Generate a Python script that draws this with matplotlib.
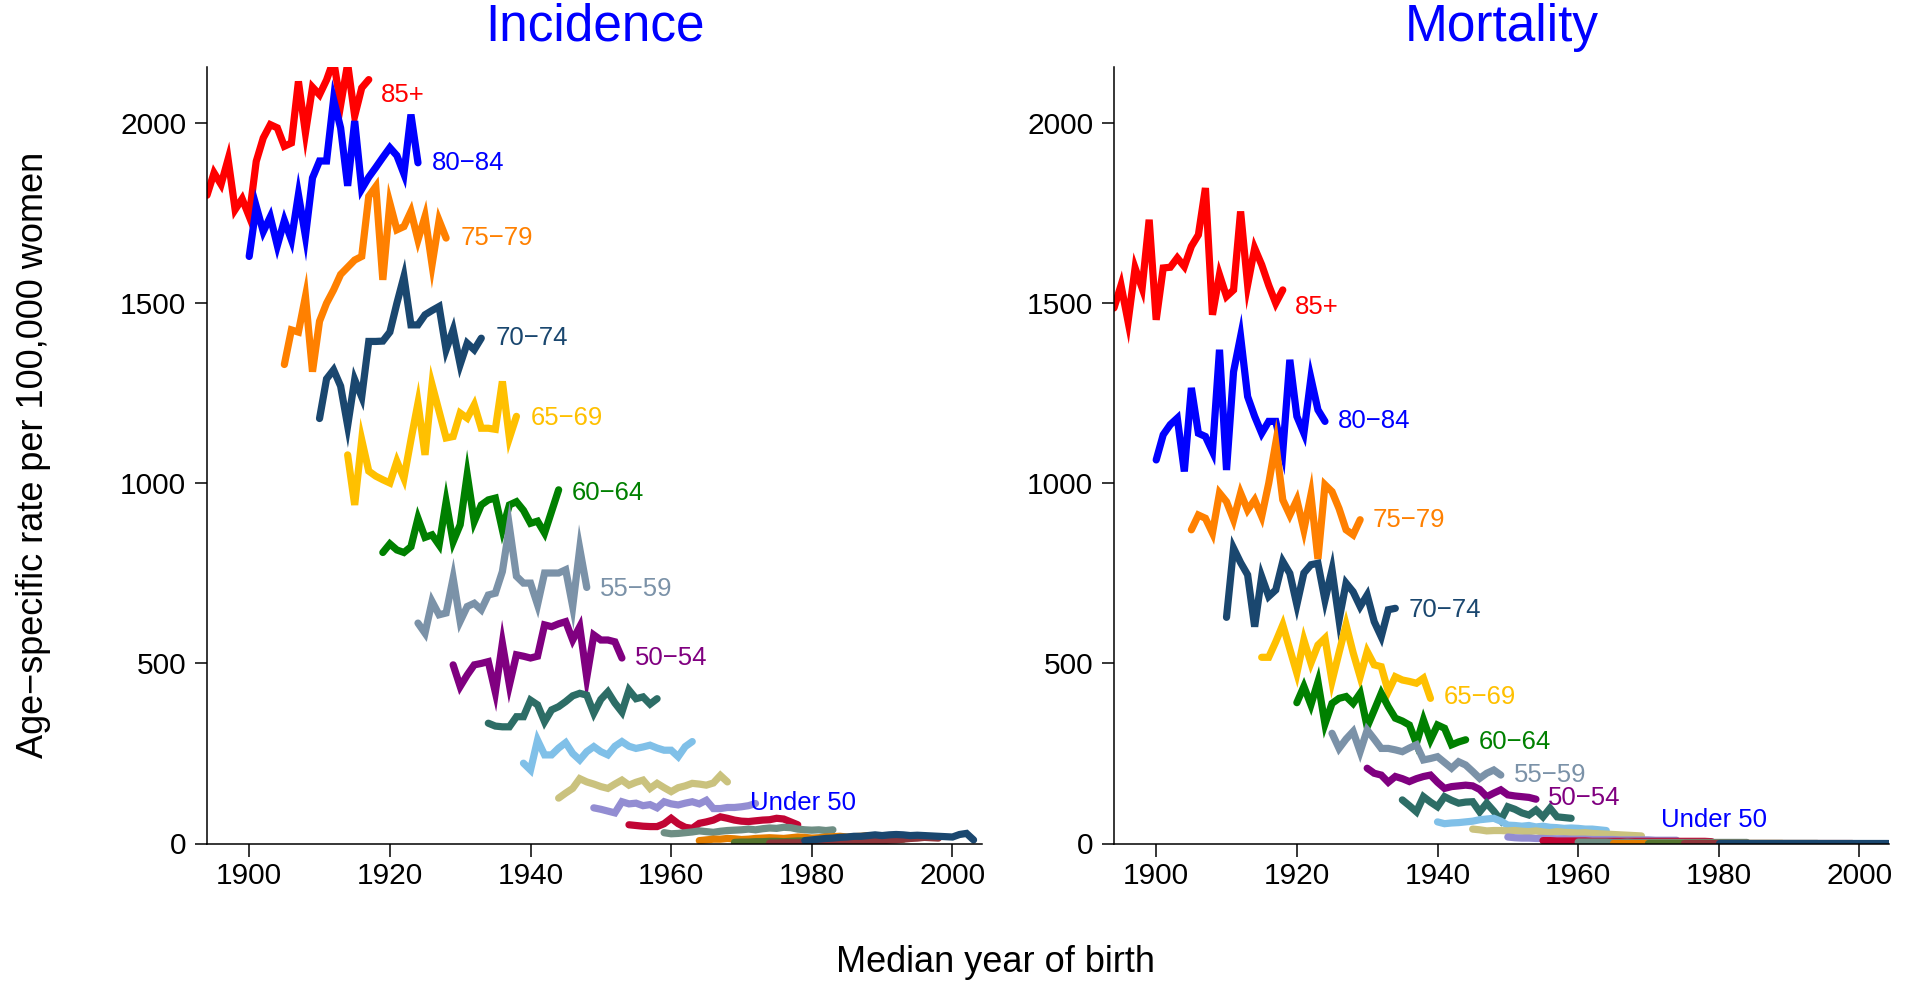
import matplotlib
matplotlib.use('Agg')
import matplotlib.pyplot as plt

plt.rcParams['font.family'] = ['Liberation Sans', 'DejaVu Sans']

# ---------------- data ----------------
age_groups = ['85+', '80−84', '75−79', '70−74', '65−69', '60−64', '55−59', '50−54',
              '45−49', '40−44', '35−39', '30−34', '25−29', '20−24', '15−19', '10−14', '5−9', '0−4']
colors = ['#ff0000', '#0000ff', '#ff8000', '#1a476f', '#ffc000', '#008000', '#7b92a8', '#800080',
          '#2d6d66', '#80c0e8', '#cac27e', '#938dd2', '#c10534', '#6e8e84', '#e37e00', '#55752f',
          '#90353b', '#1a476f']

# Incidence (first median year of birth of each series, then yearly values)
inc_start = [1894, 1900, 1905, 1910, 1914, 1919, 1924, 1929, 1934, 1939, 1944, 1949,
             1954, 1959, 1964, 1969, 1974, 1979]
inc_85 = [1800, 1862, 1830, 1900, 1760, 1790, 1741, 1894, 1959, 1996, 1987, 1936, 1945, 2116,
          1973, 2100, 2079, 2120, 2175, 2050, 2165, 2020, 2098, 2121]
inc_80 = [1630, 1769, 1699, 1740, 1660, 1730, 1676, 1802, 1686, 1848, 1895, 1895, 2066, 1987,
          1826, 2006, 1817, 1850, 1877, 1905, 1932, 1910, 1859, 2024, 1890]
inc_75 = [1330, 1426, 1420, 1519, 1310, 1450, 1500, 1537, 1580, 1600, 1620, 1630, 1797, 1824,
          1565, 1778, 1704, 1713, 1755, 1676, 1741, 1607, 1730, 1681]
inc_70 = [1180, 1290, 1315, 1270, 1160, 1288, 1240, 1394, 1394, 1395, 1420, 1500, 1574, 1440,
          1440, 1468, 1480, 1491, 1371, 1426, 1330, 1389, 1371, 1403]
inc_65 = [1079, 940, 1121, 1034, 1020, 1010, 1001, 1061, 1014, 1121, 1223, 1079, 1274, 1200,
          1126, 1130, 1195, 1181, 1218, 1153, 1153, 1150, 1283, 1126, 1186]
inc_60 = [808, 832, 815, 808, 824, 903, 850, 857, 829, 949, 838, 885, 1024, 894, 940, 954, 959,
          871, 940, 949, 925, 889, 895, 862, 922, 982]
inc_55 = [612, 584, 672, 635, 640, 737, 617, 658, 667, 649, 690, 695, 755, 880, 742, 723, 723,
          663, 751, 751, 751, 760, 658, 819, 711]
inc_50 = [496, 436, 468, 496, 500, 505, 420, 556, 440, 524, 520, 515, 520, 607, 602, 610, 616,
          565, 602, 461, 579, 565, 565, 560, 515]
inc_45 = [334, 326, 324, 324, 352, 352, 398, 385, 338, 371, 380, 394, 410, 417, 412, 362, 400,
          421, 390, 365, 426, 402, 407, 387, 402]
inc_40 = [223, 204, 287, 246, 246, 265, 280, 250, 232, 255, 269, 255, 246, 270, 283, 270, 264,
          268, 273, 265, 259, 259, 241, 269, 283]
inc_35 = [126, 140, 153, 180, 171, 165, 158, 153, 165, 176, 162, 170, 176, 153, 167, 155, 144,
          155, 160, 167, 165, 162, 168, 189, 171]
inc_30 = [99, 95, 90, 85, 116, 110, 112, 105, 108, 99, 116, 110, 107, 112, 116, 110, 120, 97,
          97, 100, 100, 102, 105, 111]
inc_25 = [52, 50, 48, 47, 47, 55, 70, 55, 45, 42, 56, 60, 65, 74, 70, 65, 62, 61, 63, 65, 66,
          70, 68, 60, 52]
inc_20 = [30, 27, 28, 30, 32, 35, 33, 31, 34, 36, 37, 38, 40, 38, 41, 43, 42, 45, 44, 40, 38,
          37, 38, 36, 38]
inc_15 = [8, 10, 12, 12, 14, 13, 11, 12, 14, 15, 16, 15, 14, 16, 18, 17, 15, 16, 18, 19, 20,
          18, 19, 20, 22]
inc_10 = [3, 4, 4, 5, 5, 6, 6, 5, 6, 7, 7, 8, 8, 7, 8, 9, 9, 10, 10, 9, 10, 11, 12, 12, 12]
inc_5 = [1, 1, 2, 2, 2, 3, 3, 3, 4, 4, 5, 5, 6, 7, 7, 8, 8, 9, 10, 12, 14, 15, 17, 16, 15]
inc_0 = [8, 10, 12, 14, 15, 17, 18, 20, 20, 22, 24, 22, 24, 25, 24, 22, 23, 22, 21, 20, 19, 18,
         25, 28, 10]
incidence = [inc_85, inc_80, inc_75, inc_70, inc_65, inc_60, inc_55, inc_50, inc_45, inc_40,
             inc_35, inc_30, inc_25, inc_20, inc_15, inc_10, inc_5, inc_0]

# Mortality
mort_start = [1894, 1900, 1905, 1910, 1915, 1920, 1925, 1930, 1935, 1940, 1945, 1950,
              1955, 1960, 1965, 1970, 1975, 1980]
mort_85 = [1487, 1550, 1449, 1598, 1542, 1732, 1454, 1598, 1600, 1626, 1602, 1658, 1690, 1820,
           1468, 1579, 1519, 1537, 1755, 1551, 1653, 1607, 1550, 1500, 1537]
mort_80 = [1065, 1135, 1163, 1181, 1033, 1265, 1139, 1130, 1088, 1371, 1037, 1310, 1408, 1241,
           1186, 1139, 1172, 1172, 1088, 1343, 1186, 1139, 1292, 1204, 1172]
mort_75 = [871, 912, 903, 862, 973, 949, 899, 973, 926, 954, 908, 1000, 1112, 954, 912, 954,
           871, 968, 790, 996, 977, 930, 871, 857, 899]
mort_70 = [628, 820, 780, 746, 602, 741, 686, 704, 783, 750, 663, 751, 774, 778, 676, 760, 621,
           723, 699, 658, 690, 616, 574, 649, 653]
mort_65 = [517, 517, 560, 607, 540, 473, 565, 501, 551, 570, 451, 530, 607, 530, 463, 533, 496,
           491, 422, 463, 454, 450, 445, 459, 403]
mort_60 = [391, 436, 385, 449, 332, 389, 403, 408, 389, 417, 324, 370, 417, 380, 348, 340, 329,
           278, 343, 288, 329, 320, 274, 282, 288]
mort_55 = [306, 264, 290, 311, 255, 315, 290, 264, 264, 260, 255, 265, 274, 232, 236, 241, 225,
           209, 227, 218, 200, 181, 195, 204, 190]
mort_50 = [209, 195, 190, 170, 186, 180, 172, 180, 186, 190, 170, 153, 158, 160, 162, 160, 150,
           130, 140, 149, 135, 132, 130, 128, 123]
mort_45 = [121, 105, 88, 130, 115, 102, 130, 120, 112, 115, 116, 88, 112, 90, 65, 102, 95, 85,
           79, 93, 74, 98, 74, 72, 70]
mort_40 = [60, 55, 57, 58, 60, 62, 66, 68, 70, 62, 51, 50, 48, 50, 46, 48, 45, 44, 42, 43, 42,
           40, 40, 38, 36]
mort_35 = [40, 38, 35, 36, 36, 35, 36, 34, 33, 35, 32, 30, 33, 31, 30, 29, 30, 28, 27, 26, 25,
           24, 23, 22, 21]
mort_30 = [18, 16, 15, 15, 14, 14, 13, 13, 13, 12, 12, 12, 11, 11, 11, 11, 10, 10, 10, 10, 10,
           9, 9, 9, 9]
mort_25 = [8, 8, 7, 7, 7, 7, 7, 6, 6, 6, 6, 6, 6, 6, 6, 6, 6, 6, 6, 6, 6, 6, 6, 6, 5]
mort_20 = [4, 4, 4, 4, 4, 3, 3, 4, 3, 3, 3, 3, 3, 3, 3, 3, 3, 3, 3, 3, 3, 3, 3, 3, 3]
mort_15 = [2, 2, 2, 2, 2, 2, 2, 2, 2, 2, 2, 2, 2, 2, 2, 2, 2, 2, 2, 2, 2, 2, 2, 2, 2]
mort_10 = [1.5, 1.5, 1.5, 1.5, 1.5, 1.5, 1.5, 1.5, 1.5, 1.5, 1.5, 1.5, 1.5, 1.5, 1.5, 1.5, 1.5,
           1.5, 1.5, 1.5, 1.5, 1.5, 1.5, 1.5, 1.5]
mort_5 = [1, 1, 1, 1, 1, 1, 1, 1, 1, 1, 1, 1, 1, 1, 1, 1, 1, 1, 1, 1, 1, 1, 1, 1, 1]
mort_0 = [2, 2, 2, 2, 2, 2, 2, 2, 2, 2, 2, 2, 2, 2, 2, 2, 2, 2, 2, 2, 2, 2, 2, 2, 2]
mortality = [mort_85, mort_80, mort_75, mort_70, mort_65, mort_60, mort_55, mort_50, mort_45,
             mort_40, mort_35, mort_30, mort_25, mort_20, mort_15, mort_10, mort_5, mort_0]

y_ticks = [0, 500, 1000, 1500, 2000]
x_ticks = [1900, 1920, 1940, 1960, 1980, 2000]

# label placement (year, value) for the 8 oldest groups + "Under 50"
inc_label_pos = [(1918.7, 2079), (1926.0, 1889), (1930.0, 1681), (1935.0, 1403),
                 (1940.0, 1181), (1945.8, 973), (1949.9, 706), (1954.8, 515)]
inc_under50_pos = (1971.2, 113)
mort_label_pos = [(1919.7, 1491), (1925.8, 1172), (1930.8, 898), (1935.9, 649),
                  (1940.9, 408), (1945.8, 283), (1950.8, 190), (1955.7, 127)]
mort_under50_pos = (1971.8, 65)

# ---------------- figure ----------------
W, H = 1910, 982
fig = plt.figure(figsize=(W / 100, H / 100), dpi=100)

ax_w = 775 / W
ax_h = (843.5 - 67) / H
ax_b = 1 - 843.5 / H
axes = [fig.add_axes([207 / W, ax_b, ax_w, ax_h]),
        fig.add_axes([1114 / W, ax_b, ax_w, ax_h])]

panels = [(axes[0], incidence, inc_start, inc_label_pos, inc_under50_pos, 'Incidence'),
          (axes[1], mortality, mort_start, mort_label_pos, mort_under50_pos, 'Mortality')]

for ax, series, starts, lpos, u50, title in panels:
    for vals, st, col in zip(series, starts, colors):
        xs = list(range(st, st + len(vals)))
        ax.plot(xs, vals, color=col, lw=5.2, solid_joinstyle='miter',
                solid_capstyle='round')
    for (lx, ly), lab, col in zip(lpos, age_groups[:8], colors[:8]):
        ax.text(lx, ly, lab, color=col, fontsize=18.5, ha='left', va='center')
    ax.text(u50[0], u50[1], 'Under 50', color='#0000ff', fontsize=18.5, ha='left', va='center')

    ax.set_xlim(1894, 2004.2)
    ax.set_ylim(0, 2156)
    ax.set_xticks(x_ticks)
    ax.set_yticks(y_ticks)
    ax.tick_params(axis='both', direction='out', length=9, width=1.1, labelsize=21.5,
                   color='black')
    ax.tick_params(axis='y', pad=6)
    ax.tick_params(axis='x', pad=4)
    for s in ['top', 'right']:
        ax.spines[s].set_visible(False)
    for s in ['left', 'bottom']:
        ax.spines[s].set_linewidth(1.1)
    bb = ax.get_position()
    fig.text(bb.x0 + bb.width / 2, 1 - 27 / H, title, color='#0000ff', fontsize=37,
             ha='center', va='center')

fig.text(34 / W, 1 - 455 / H, 'Age−specific rate per 100,000 women', rotation=90,
         fontsize=26, ha='center', va='center')
fig.text(995 / W, 1 - 962 / H, 'Median year of birth', fontsize=26, ha='center', va='center')

fig.savefig('out.png', dpi=100, facecolor='white')
